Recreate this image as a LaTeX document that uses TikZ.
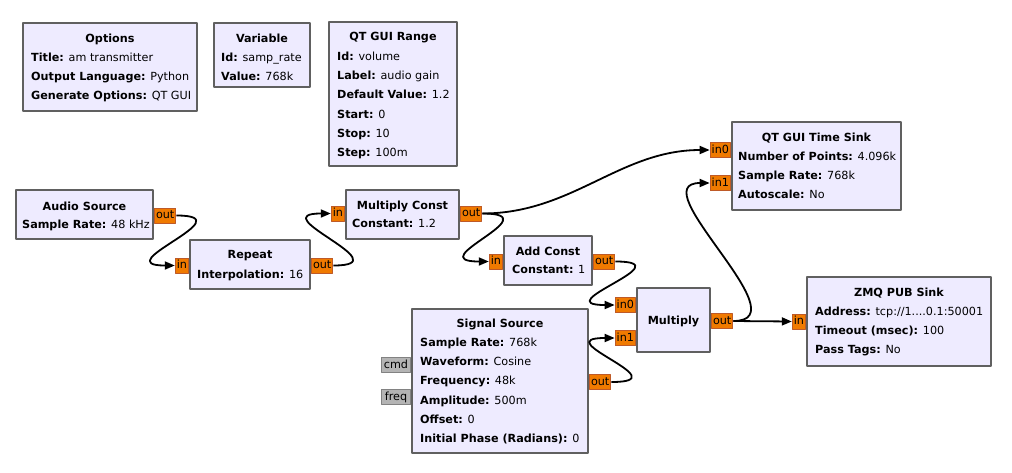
\documentclass[tikz,border=0pt]{standalone}
\usepackage{fontspec}
\setmainfont{DejaVu Sans}
\usetikzlibrary{arrows.meta, calc, positioning}

\definecolor{blockfill}{RGB}{238,235,255}
\definecolor{blockline}{RGB}{96,96,96}
\definecolor{portfill}{RGB}{240,122,0}
\definecolor{portline}{RGB}{190,90,40}
\definecolor{msgfill}{RGB}{180,180,180}
\definecolor{msgline}{RGB}{130,130,130}

\begin{document}
\begin{tikzpicture}[x=1pt, y=-1pt, line join=round,
  every node/.style={font=\fontsize{11.2}{19.1}\selectfont},
  blk/.style={draw=blockline, fill=blockfill, line width=2pt, anchor=north west, inner sep=0pt},
  ttl/.style={font=\fontsize{11.2}{19.1}\selectfont\bfseries, inner sep=0pt},
  prm/.style={align=left, anchor=north west, inner sep=0pt},
  port/.style={draw=portline, fill=portfill, line width=1pt, inner xsep=1.5pt, inner ysep=0pt,
    minimum height=15pt, text height=8.5pt, text depth=2.5pt},
  msg/.style={port, draw=msgline, fill=msgfill},
  wire/.style={line width=1.8pt, -{Triangle[length=10pt, width=8pt]}},
]
  \useasboundingbox (0,0) rectangle (1012,472);

  % Top row: variables and options
  \node[blk, minimum width=174, minimum height=88] (opt) at (22,22) {};
  \node[ttl] (optT) at ($(opt.north)+(0,17)$) {Options};
  \node[prm] (optP) at ($(opt.north west)+(9,31)$) {\textbf{Title:} am transmitter\\
    \textbf{Output Language:} Python\\\textbf{Generate Options:} QT GUI};

  \node[blk, minimum width=96, minimum height=64] (var) at (213,22) {};
  \node[ttl] (varT) at ($(var.north)+(0,16)$) {Variable};
  \node[prm] (varP) at ($(var.north west)+(8,31)$) {\textbf{Id:} samp\_rate\\\textbf{Value:} 768k};

  \node[blk, minimum width=128, minimum height=144] (rng) at (328,21) {};
  \node[ttl] (rngT) at ($(rng.north)+(0,17)$) {QT GUI Range};
  \node[prm] (rngP) at ($(rng.north west)+(9,31)$) {\textbf{Id:} volume\\\textbf{Label:} audio gain\\
    \textbf{Default Value:} 1.2\\\textbf{Start:} 0\\\textbf{Stop:} 10\\\textbf{Step:} 100m};

  % Audio chain
  \node[blk, minimum width=137, minimum height=49] (src) at (15,189) {};
  \node[ttl] (srcT) at ($(src.north)+(0,17)$) {Audio Source};
  \node[prm] (srcP) at ($(src.north west)+(7,31)$) {\textbf{Sample Rate:} 48 kHz};
  \node[port, anchor=west] (srcOut) at ($(src.east)+(0,1)$) {out};

  \node[blk, minimum width=120, minimum height=49] (rep) at (189,239) {};
  \node[ttl] (repT) at ($(rep.north)+(0,17)$) {Repeat};
  \node[prm] (repP) at ($(rep.north west)+(8,31)$) {\textbf{Interpolation:} 16};
  \node[port, anchor=east] (repIn) at ($(rep.west)+(0,1)$) {in};
  \node[port, anchor=west] (repOut) at ($(rep.east)+(0,1)$) {out};

  \node[blk, minimum width=113, minimum height=49] (mc) at (345,189) {};
  \node[ttl] (mcT) at ($(mc.north)+(0,17)$) {Multiply Const};
  \node[prm] (mcP) at ($(mc.north west)+(7,30)$) {\textbf{Constant:} 1.2};
  \node[port, anchor=east] (mcIn) at ($(mc.west)+(0,-1)$) {in};
  \node[port, anchor=west] (mcOut) at ($(mc.east)+(0,-1)$) {out};

  \node[blk, minimum width=88, minimum height=49] (ac) at (503,235) {};
  \node[ttl] (acT) at ($(ac.north)+(0,16)$) {Add Const};
  \node[prm] (acP) at ($(ac.north west)+(9,30)$) {\textbf{Constant:} 1};
  \node[port, anchor=east] (acIn) at ($(ac.west)+(0,1)$) {in};
  \node[port, anchor=west] (acOut) at ($(ac.east)+(0,1)$) {out};

  % Carrier
  \node[blk, minimum width=176, minimum height=144] (sig) at (411,308) {};
  \node[ttl] (sigT) at ($(sig.north)+(0,16)$) {Signal Source};
  \node[prm] (sigP) at ($(sig.north west)+(9,30)$) {\textbf{Sample Rate:} 768k\\\textbf{Waveform:} Cosine\\
    \textbf{Frequency:} 48k\\\textbf{Amplitude:} 500m\\\textbf{Offset:} 0\\\textbf{Initial Phase (Radians):} 0};
  \node[msg, anchor=east, minimum width=29] (sigCmd) at ($(sig.west)+(0,-16)$) {cmd};
  \node[msg, anchor=east, minimum width=29] (sigFreq) at ($(sig.west)+(0,16)$) {freq};
  \node[port, anchor=west] (sigOut) at ($(sig.east)+(0,1)$) {out};

  \node[blk, minimum width=73, minimum height=64] (mul) at (636,287) {};
  \node[ttl] (mulT) at ($(mul.center)+(0,1)$) {Multiply};
  \node[port, anchor=east] (mulIn0) at ($(mul.west)+(0,-15)$) {in0};
  \node[port, anchor=east] (mulIn1) at ($(mul.west)+(0,18)$) {in1};
  \node[port, anchor=west] (mulOut) at ($(mul.east)+(0,1)$) {out};

  % Sinks
  \node[blk, minimum width=169, minimum height=88] (ts) at (731,121) {};
  \node[ttl] (tsT) at ($(ts.north)+(0,17)$) {QT GUI Time Sink};
  \node[prm] (tsP) at ($(ts.north west)+(7,31)$) {\textbf{Number of Points:} 4.096k\\
    \textbf{Sample Rate:} 768k\\\textbf{Autoscale:} No};
  \node[port, anchor=east] (tsIn0) at ($(ts.west)+(0,-16)$) {in0};
  \node[port, anchor=east] (tsIn1) at ($(ts.west)+(0,17)$) {in1};

  \node[blk, minimum width=184, minimum height=89] (zmq) at (806,276) {};
  \node[ttl] (zmqT) at ($(zmq.north)+(0,17)$) {ZMQ PUB Sink};
  \node[prm] (zmqP) at ($(zmq.north west)+(9,31)$) {\textbf{Address:} tcp://1....0.1:50001\\
    \textbf{Timeout (msec):} 100\\\textbf{Pass Tags:} No};
  \node[port, anchor=east] (zmqIn) at (zmq.west) {in};

  % Connections
  \draw[wire] (srcOut.east) .. controls +(70,0) and +(-70,0) .. (repIn.west);
  \draw[wire] (repOut.east) .. controls +(70,0) and +(-70,0) .. (mcIn.west);
  \draw[wire] (mcOut.east) .. controls +(70,0) and +(-70,0) .. (acIn.west);
  \draw[wire] (mcOut.east) .. controls +(90,0) and +(-90,0) .. (tsIn0.west);
  \draw[wire] (acOut.east) .. controls +(70,0) and +(-70,0) .. (mulIn0.west);
  \draw[wire] (sigOut.east) .. controls +(70,0) and +(-70,0) .. (mulIn1.west);
  \draw[wire] (mulOut.east) -- (zmqIn.west);
  \draw[wire] (mulOut.east) .. controls +(70,0) and +(-70,0) .. (tsIn1.west);
\end{tikzpicture}
\end{document}
